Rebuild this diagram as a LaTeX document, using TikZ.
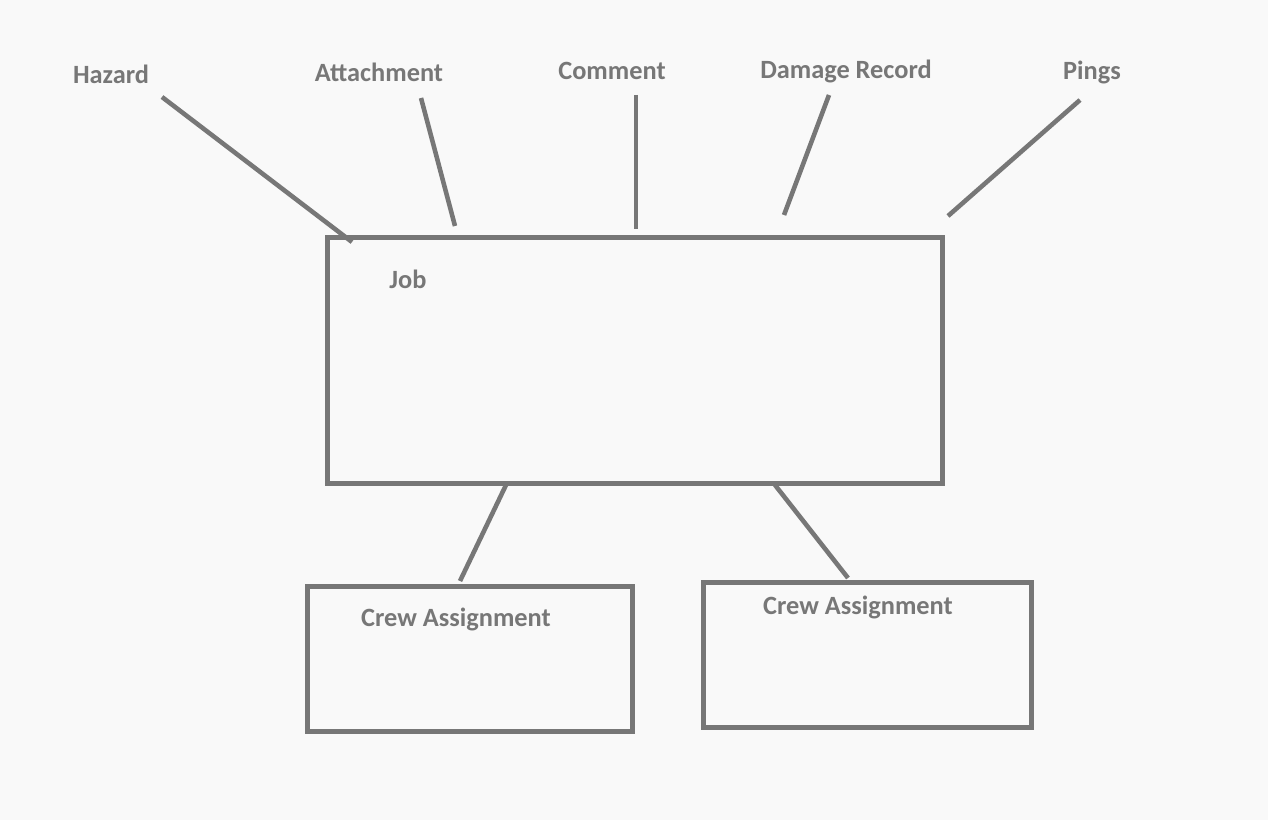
\documentclass[tikz,border=0pt]{standalone}
\usepackage{fontspec}
\setmainfont{Carlito}
\begin{document}
\begin{tikzpicture}[x=0.02cm,y=-0.02cm,
  ln/.style={draw=gc,line width=2.6pt},
  lbl/.style={text=gc,font=\fontsize{15}{18}\selectfont\bfseries,inner sep=0pt}]
\definecolor{gc}{HTML}{777777}
\definecolor{bg}{HTML}{F9F9F9}
\fill[bg] (0,0) rectangle (1268,820);
\useasboundingbox (0,0) rectangle (1268,820);
\node[ln,minimum width=615*0.02cm,minimum height=246*0.02cm,anchor=north west,inner sep=0pt] (job) at (325,235) {};
\node[ln,minimum width=325*0.02cm,minimum height=145*0.02cm,anchor=north west,inner sep=0pt] (ca1) at (305,584) {};
\node[ln,minimum width=328*0.02cm,minimum height=145*0.02cm,anchor=north west,inner sep=0pt] (ca2) at (701,580) {};
\node[lbl] (hz) at (111,74) {Hazard};
\node[lbl] (at) at (379,72) {Attachment};
\node[lbl] (cm) at (612,71) {Comment};
\node[lbl] (dr) at (846,71) {Damage Record};
\node[lbl] (pg) at (1092,72) {Pings};
\node[lbl] (jl) at (408,279) {Job};
\node[lbl] (c1) at (456,619) {Crew Assignment};
\node[lbl] (c2) at (858,607) {Crew Assignment};
\coordinate (h1) at (162,97); \coordinate (h2) at (352,242);
\coordinate (a1) at (421,98); \coordinate (a2) at (455,226);
\coordinate (m1) at (636,95); \coordinate (m2) at (636,229);
\coordinate (d1) at (829,95); \coordinate (d2) at (784,215);
\coordinate (p1) at (1080,100); \coordinate (p2) at (948,216);
\coordinate (b1) at (506,485); \coordinate (b2) at (460,581);
\coordinate (e1) at (775,485); \coordinate (e2) at (848,578);
\draw[ln] (h1) -- (h2);
\draw[ln] (a1) -- (a2);
\draw[ln] (m1) -- (m2);
\draw[ln] (d1) -- (d2);
\draw[ln] (p1) -- (p2);
\draw[ln] (b1) -- (b2);
\draw[ln] (e1) -- (e2);
\end{tikzpicture}
\end{document}
